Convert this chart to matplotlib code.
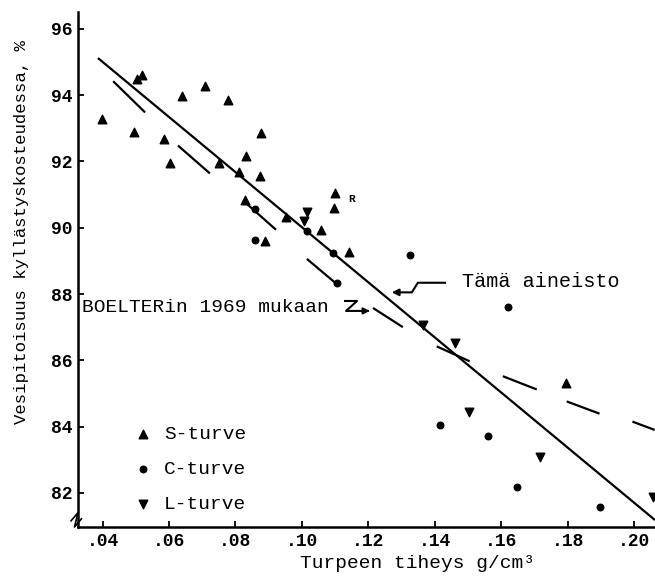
import matplotlib.pyplot as plt
import numpy as np

plt.rcParams['font.family'] = ['Liberation Mono', 'DejaVu Sans Mono']

# S-turve (triangles)
s_x = [0.0398, 0.0503, 0.0518, 0.0494, 0.0639, 0.0708, 0.0777, 0.0584, 0.0602,
       0.0750, 0.0810, 0.0831, 0.0877, 0.0873, 0.0828, 0.0889, 0.0952, 0.1057,
       0.1099, 0.1096, 0.1142, 0.1795]
s_y = [93.28, 94.49, 94.61, 92.89, 93.98, 94.28, 93.86, 92.68, 91.96,
       91.96, 91.69, 92.17, 92.86, 91.56, 90.84, 89.60, 90.33, 89.93,
       91.05, 90.60, 89.27, 85.32]
# C-turve (dots)
c_x = [0.0858, 0.0858, 0.1015, 0.1093, 0.1105, 0.1325, 0.1620, 0.1416, 0.1560,
       0.1648, 0.1898]
c_y = [90.57, 89.63, 89.90, 89.24, 88.34, 89.18, 87.61, 84.05, 83.72,
       82.18, 81.58]
# L-turve (inverted triangles)
l_x = [0.1015, 0.1006, 0.1364, 0.1461, 0.1503, 0.1717, 0.2057]
l_y = [90.48, 90.21, 87.07, 86.53, 84.44, 83.09, 81.88]

# "Tämä aineisto" regression line (end points)
fit_x = [0.0386, 0.2063]
fit_y = [95.12, 81.18]

# BOELTER 1969 curve, start/end of each dash as drawn in the original
boel_x = [0.0432, 0.0528, 0.0627, 0.0723, 0.0823, 0.0922, 0.1015, 0.1105, 0.1214,
          0.1304, 0.1406, 0.1505, 0.1605, 0.1707, 0.1797, 0.1896, 0.1995, 0.2062]
boel_y = [94.42, 93.48, 92.48, 91.64, 90.82, 89.94, 89.06, 88.30, 87.58,
          87.00, 86.42, 85.97, 85.52, 85.12, 84.76, 84.39, 84.15, 83.90]

xticks = [0.04, 0.06, 0.08, 0.10, 0.12, 0.14, 0.16, 0.18, 0.20]
xtick_labels = ['.04', '.06', '.08', '.10', '.12', '.14', '.16', '.18', '.20']
yticks = [82, 84, 86, 88, 90, 92, 94, 96]

fig = plt.figure(figsize=(6.55, 5.78), dpi=100)
ax = fig.add_axes([78 / 655, 1 - 527 / 578, 577 / 655, 515 / 578])

ax.plot(fit_x, fit_y, color='black', lw=1.6, solid_capstyle='butt')
for i in range(0, len(boel_x) - 1, 2):
    ax.plot(boel_x[i:i + 2], boel_y[i:i + 2], color='black', lw=1.6,
            solid_capstyle='butt')

ax.scatter(s_x, s_y, marker='^', s=38, color='black', label='S-turve', zorder=3)
ax.scatter(c_x, c_y, marker='o', s=22, color='black', label='C-turve', zorder=3)
ax.scatter(l_x, l_y, marker='v', s=38, color='black', label='L-turve', zorder=3)

ax.text(0.1151, 90.87, 'R', fontsize=8, fontweight='bold', ha='center', va='center')

# annotations
ax.text(0.1482, 88.37, 'Tämä aineisto', fontsize=14.5, ha='left', va='center')
ax.plot([0.1431, 0.1349, 0.1331, 0.1290], [88.34, 88.34, 88.05, 88.05],
        color='black', lw=1.5)
ax.annotate('', xy=(0.1262, 88.05), xytext=(0.1295, 88.05),
            arrowprops=dict(arrowstyle='-|>', color='black', lw=1.5,
                            mutation_scale=10))

ax.text(0.0337, 87.58, 'BOELTERin 1969 mukaan', fontsize=14, ha='left', va='center')
ax.plot([0.1130, 0.1166, 0.1133, 0.1190], [87.79, 87.79, 87.49, 87.49],
        color='black', lw=1.5)
ax.annotate('', xy=(0.1213, 87.49), xytext=(0.1185, 87.49),
            arrowprops=dict(arrowstyle='-|>', color='black', lw=1.5,
                            mutation_scale=9))

ax.set_xlim(0.0326, 0.2063)
ax.set_ylim(80.97, 96.51)
ax.set_xticks(xticks)
ax.set_xticklabels(xtick_labels)
ax.set_yticks(yticks)
ax.tick_params(direction='in', length=4, width=1.3, labelsize=13, pad=4)
for lab in ax.get_xticklabels() + ax.get_yticklabels():
    lab.set_fontweight('bold')

ax.spines['top'].set_visible(False)
ax.spines['right'].set_visible(False)
ax.spines['left'].set_linewidth(1.8)
ax.spines['bottom'].set_linewidth(1.8)

# broken axis mark
ax.plot([-0.012, 0.0, -0.006, 0.006], [0.012, 0.028, 0.0, 0.016],
        transform=ax.transAxes, color='black', lw=1.2, clip_on=False)

leg = ax.legend(loc='upper left', bbox_to_anchor=(0.082, 0.212), frameon=False,
                fontsize=14, labelspacing=0.88, handletextpad=0.6,
                handlelength=1.0, borderaxespad=0)

fig.text(22 / 655, 1 - 232 / 578, 'Vesipitoisuus kyllästyskosteudessa, %',
         rotation=90, ha='center', va='center', fontsize=12.5)
fig.text(417 / 655, 1 - 563 / 578, 'Turpeen tiheys g/cm³',
         ha='center', va='center', fontsize=14)

fig.savefig('out.png', dpi=100)
